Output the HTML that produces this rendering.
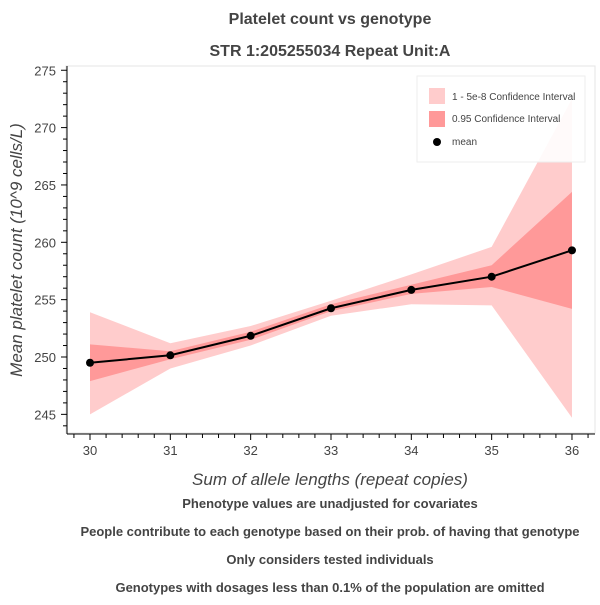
<!DOCTYPE html>
<html><head><meta charset="utf-8"><style>
body{margin:0;background:#fff;font-family:"Liberation Sans",Helvetica,sans-serif}
svg text{font-family:"Liberation Sans",Helvetica,sans-serif}
</style></head><body>
<svg id="chart" width="600" height="600">
<text x="330" y="24" text-anchor="middle" font-size="16" font-weight="bold" fill="#444">Platelet count vs genotype</text>
<text x="330" y="56" text-anchor="middle" font-size="16" font-weight="bold" fill="#444">STR 1:205255034 Repeat Unit:A</text>
<rect x="66" y="66" width="529" height="367" fill="none" stroke="#e5e5e5"/>
<g id="marks"></g>
<g id="axes"></g>
<text transform="translate(22,250) rotate(-90)" text-anchor="middle" font-size="17" font-style="italic" fill="#444">Mean platelet count (10^9 cells/L)</text>
<text x="330" y="485" text-anchor="middle" font-size="17" font-style="italic" fill="#444">Sum of allele lengths (repeat copies)</text>
<g font-size="13" font-weight="bold" fill="#444" text-anchor="middle">
<text x="330" y="508">Phenotype values are unadjusted for covariates</text>
<text x="330" y="536">People contribute to each genotype based on their prob. of having that genotype</text>
<text x="330" y="564">Only considers tested individuals</text>
<text x="330" y="592">Genotypes with dosages less than 0.1% of the population are omitted</text>
</g>
<g>
<rect x="417" y="76" width="168" height="86" fill="#fff" fill-opacity="0.9" stroke="#eee"/>
<rect x="429" y="88" width="16" height="16" fill="#ffcccc"/>
<text x="452" y="100" font-size="10" fill="#444">1 - 5e-8 Confidence Interval</text>
<rect x="429" y="111" width="16" height="16" fill="#ff9999"/>
<text x="452" y="122" font-size="10" fill="#444">0.95 Confidence Interval</text>
<circle cx="437" cy="142" r="4" fill="#000"/>
<text x="452" y="145" font-size="10" fill="#444">mean</text>
</g>
</svg>
<script>
const categories=[30,31,32,33,34,35,36];
const means=[249.5,250.15,251.85,254.25,255.85,257.0,259.3];
const ci95Low=[247.9,249.8,251.5,254.0,255.5,256.1,254.2];
const ci95High=[251.1,250.5,252.2,254.6,256.3,258.0,264.4];
const ciOuterLow=[245.0,249.0,251.0,253.6,254.6,254.5,244.7];
const ciOuterHigh=[253.9,251.2,252.7,254.9,257.2,259.6,272.5];
const yTicks=[245,250,255,260,265,270,275];
const NS="http://www.w3.org/2000/svg";
const x=v=>90+(v-30)*80.33;
const y=v=>357-(v-250)*11.47;
const marks=document.getElementById('marks'), axes=document.getElementById('axes');
function mk(t,a,p){const e=document.createElementNS(NS,t);for(const k in a)e.setAttribute(k,a[k]);p.appendChild(e);return e;}
function band(lo,hi,fill,name){
  const pts=categories.map((c,i)=>x(c)+','+y(hi[i])).concat(categories.map((c,i)=>x(c)+','+y(lo[i])).reverse());
  const p=mk('polygon',{points:pts.join(' '),fill:fill},marks);
  
  
}
band(ciOuterLow,ciOuterHigh,'#ffcccc','outer-ci-band');
band(ci95Low,ci95High,'#ff9999','ci95-band');
const line=mk('polyline',{points:categories.map((c,i)=>x(c)+','+y(means[i])).join(' '),fill:'none',stroke:'#000','stroke-width':2},marks);


categories.forEach((c,i)=>{
  const d=mk('circle',{cx:x(c),cy:y(means[i]),r:4,fill:'#000'},marks);
  
  
});
// axes
mk('line',{x1:67,y1:66,x2:67,y2:434,stroke:'#000'},axes);
mk('line',{x1:67,y1:434,x2:595,y2:434,stroke:'#000'},axes);
for(let v=244;v<=275;v++){mk('line',{x1:yTicks.includes(v)?61:63,y1:y(v),x2:67,y2:y(v),stroke:'#000'},axes);}
yTicks.forEach(v=>{const t=mk('text',{x:56,y:y(v)+5,'text-anchor':'end','font-size':13,fill:'#444'},axes);t.textContent=v;
  
  });
for(let k=0;k<=33;k++){const v=29.8+k*0.2;const px=x(v);if(px<68||px>594)continue;const major=Math.abs(v-Math.round(v))<0.01;
  mk('line',{x1:px,y1:434,x2:px,y2:major?440:438,stroke:'#000'},axes);}
categories.forEach(c=>{const t=mk('text',{x:x(c),y:455,'text-anchor':'middle','font-size':13,fill:'#444'},axes);t.textContent=c;
  
  });
</script>
</body></html>
